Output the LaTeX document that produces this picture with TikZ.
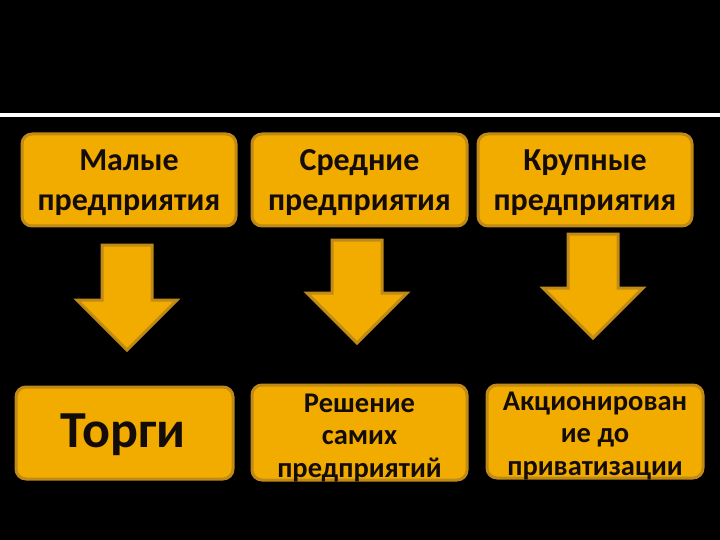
\documentclass[tikz,border=0pt]{standalone}
\usepackage{fontspec}
\setmainfont{Carlito}
\definecolor{boxfill}{RGB}{242,172,0}
\definecolor{boxedge}{RGB}{192,138,24}
\definecolor{txt}{RGB}{20,12,8}
\begin{document}
\begin{tikzpicture}[x=1pt,y=-1pt,
  box/.style={draw=boxedge, line width=3pt, fill=boxfill, rounded corners=10pt},
  lbl/.style={text=txt, align=center, inner sep=0pt, font=\fontsize{32}{40}\selectfont\bfseries},
  lblsmall/.style={text=txt, align=center, inner sep=0pt, font=\fontsize{28.5}{32.5}\selectfont\bfseries},
  arr/.style={draw=boxedge, line width=3pt, fill=boxfill, line join=miter}]
\useasboundingbox[fill=black] (0,0) rectangle (720,540);
\fill[white] (0,113) rectangle (720,117);
% top boxes
\draw[box] (22,134) rectangle (236,226);
\draw[box] (252,134) rectangle (467,226);
\draw[box] (478,134) rectangle (692,226);
\node[lbl] (t1) at (129,183) {Малые\\предприятия};
\node[lbl] (t2) at (359.5,183) {Средние\\предприятия};
\node[lbl] (t3) at (585,183) {Крупные\\предприятия};
% bottom boxes
\draw[box] (16,387) rectangle (233,479);
\draw[box] (252,385) rectangle (467,480);
\draw[box] (487,385) rectangle (703,478);
\node[text=txt, inner sep=0pt, font=\fontsize{52}{52}\selectfont\bfseries] (b1) at (123,435) {Торги};
\node[lblsmall] (b2) at (359.5,438) {Решение\\самих\\предприятий};
\node[lblsmall] (b3) at (595,436) {Акционирован\\ие до\\приватизации};
% arrows
\newcommand\ydarrow[3]{%
  \draw[arr] (#1-25,#2) -- (#1+25,#2) -- (#1+25,#3) -- (#1+50,#3) -- (#1,#3+50) -- (#1-50,#3) -- (#1-25,#3) -- cycle;}
\ydarrow{127}{245}{300}
\ydarrow{357}{240}{293}
\ydarrow{593}{234}{288}
\end{tikzpicture}
\end{document}
